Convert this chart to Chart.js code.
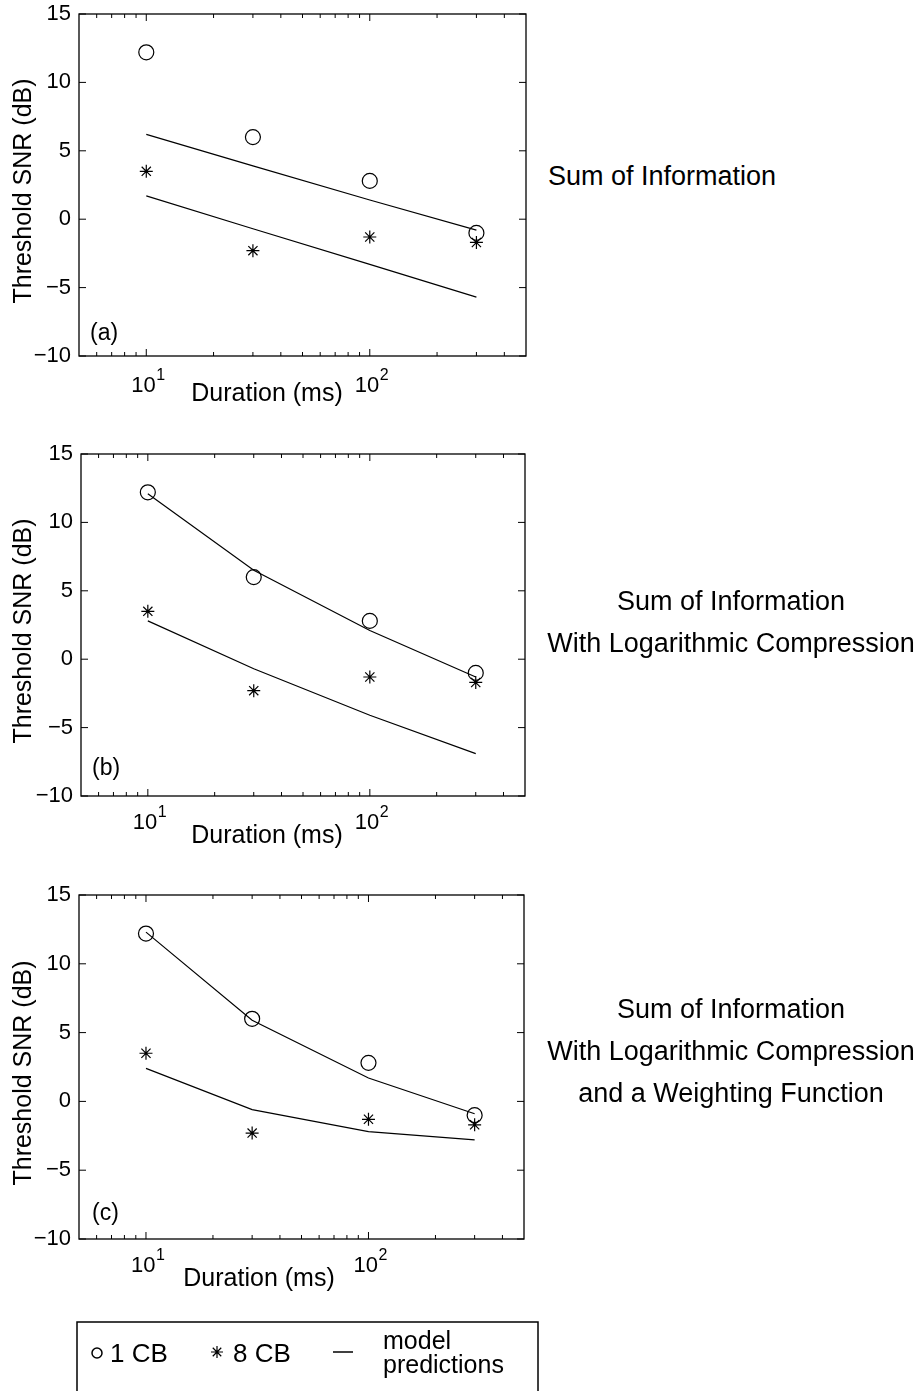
<!DOCTYPE html>
<html>
<head>
<meta charset="utf-8">
<script src="https://cdn.jsdelivr.net/npm/chart.js@4.4.1/dist/chart.umd.min.js"></script>
<style>
    body {
        margin: 0;
        width: 922px;
        height: 1391px;
        position: relative;
        overflow: hidden;
        background: #fff;
        font-family: "Liberation Sans", Arial, Helvetica, sans-serif;
    }
    canvas { position: absolute; left: 0; }
    .note {
        position: absolute;
        font-size: 27px;
        line-height: 42px;
        color: #000;
        white-space: nowrap;
    }
    .note.centered { text-align: center; width: 400px; }
</style>
</head>
<body>
<canvas id="panelA" width="540" height="440" style="top:0px"></canvas>
<canvas id="panelB" width="540" height="440" style="top:440px"></canvas>
<canvas id="panelC" width="540" height="440" style="top:881px"></canvas>
<canvas id="legend" width="922" height="91" style="top:1300px"></canvas>

<div class="note" style="left:548px; top:155px">Sum of Information</div>
<div class="note centered" style="left:531px; top:580px">Sum of Information<br>With Logarithmic Compression</div>
<div class="note centered" style="left:531px; top:988px">Sum of Information<br>With Logarithmic Compression<br>and a Weighting Function</div>

<script>
// durées des stimuli (ms)
const durations = [10, 30, 100, 300];

// seuils mesurés (dB)
const oneCB = [12.2, 6.0, 2.8, -1.0];
const eightCB = [3.5, -2.3, -1.3, -1.7];

// prédictions des trois modèles
const modelA_1CB = [6.2, 3.9, 1.4, -0.8];
const modelA_8CB = [1.7, -0.7, -3.3, -5.7];
const modelB_1CB = [12.1, 6.5, 2.1, -1.3];
const modelB_8CB = [2.8, -0.7, -4.1, -6.9];
const modelC_1CB = [12.3, 5.9, 1.7, -0.9];
const modelC_8CB = [2.4, -0.6, -2.2, -2.8];

// graduations
const yTicks = [-10, -5, 0, 5, 10, 15];
const xTicks = [10, 100];
const xMinorTicks = [6, 7, 8, 9, 20, 30, 40, 50, 60, 70, 80, 90, 200, 300, 400];

const FONT = '"Liberation Sans", Arial, Helvetica, sans-serif';

function toPoints(values) {
    return values.map((v, i) => ({ x: durations[i], y: v }));
}

// cadre, graduations intérieures et textes façon Matlab
const matlabAxes = {
    id: 'matlabAxes',
    afterDraw(chart, args, opts) {
        const ctx = chart.ctx;
        const a = chart.chartArea;
        const x = chart.scales.x;
        const y = chart.scales.y;
        ctx.save();
        ctx.strokeStyle = '#000';
        ctx.fillStyle = '#000';
        ctx.lineWidth = 1.3;
        ctx.strokeRect(a.left, a.top, a.right - a.left, a.bottom - a.top);

        ctx.beginPath();
        yTicks.forEach(v => {
            const py = y.getPixelForValue(v);
            ctx.moveTo(a.left, py); ctx.lineTo(a.left + 7, py);
            ctx.moveTo(a.right, py); ctx.lineTo(a.right - 7, py);
        });
        xTicks.forEach(v => {
            const px = x.getPixelForValue(v);
            ctx.moveTo(px, a.bottom); ctx.lineTo(px, a.bottom - 7);
            ctx.moveTo(px, a.top); ctx.lineTo(px, a.top + 7);
        });
        xMinorTicks.forEach(v => {
            const px = x.getPixelForValue(v);
            ctx.moveTo(px, a.bottom); ctx.lineTo(px, a.bottom - 4);
            ctx.moveTo(px, a.top); ctx.lineTo(px, a.top + 4);
        });
        ctx.lineWidth = 1;
        ctx.stroke();

        // étiquettes de l'axe y
        ctx.font = '22px ' + FONT;
        ctx.textAlign = 'right';
        ctx.textBaseline = 'middle';
        yTicks.forEach(v => {
            const txt = v < 0 ? '\u2212' + Math.abs(v) : String(v);
            ctx.fillText(txt, a.left - 8, y.getPixelForValue(v));
        });

        // étiquettes de l'axe x : 10^n
        ctx.textBaseline = 'alphabetic';
        ctx.textAlign = 'left';
        xTicks.forEach(v => {
            const px = x.getPixelForValue(v) - 15;
            const base = a.bottom + opts.tickBase;
            ctx.font = '22px ' + FONT;
            ctx.fillText('10', px, base);
            const w = ctx.measureText('10').width;
            ctx.font = '16px ' + FONT;
            ctx.fillText(String(Math.round(Math.log10(v))), px + w + 0.5, base - 12);
        });

        // titres des axes
        ctx.font = '25px ' + FONT;
        ctx.textAlign = 'center';
        ctx.fillText('Duration (ms)', opts.xLabelX, a.bottom + opts.xLabelBase);

        ctx.save();
        ctx.translate(31, (a.top + a.bottom) / 2 + 6);
        ctx.rotate(-Math.PI / 2);
        ctx.fillText('Threshold SNR (dB)', 0, 0);
        ctx.restore();

        // lettre du panneau
        ctx.font = '23px ' + FONT;
        ctx.textAlign = 'left';
        ctx.textBaseline = 'middle';
        ctx.fillText(opts.letter, opts.letterX, a.bottom - opts.letterUp);
        ctx.restore();
    }
};

function buildPanel(canvasId, model1, model8, layout) {
    const ctx = document.getElementById(canvasId).getContext('2d');
    return new Chart(ctx, {
        type: 'scatter',
        data: {
            datasets: [
                {
                    label: 'model 1 CB',
                    data: toPoints(model1),
                    showLine: true,
                    borderColor: '#000',
                    borderWidth: 1.2,
                    pointRadius: 0
                },
                {
                    label: 'model 8 CB',
                    data: toPoints(model8),
                    showLine: true,
                    borderColor: '#000',
                    borderWidth: 1.2,
                    pointRadius: 0
                },
                {
                    label: '1 CB',
                    data: toPoints(oneCB),
                    pointStyle: 'circle',
                    pointRadius: 7.5,
                    borderColor: '#000',
                    borderWidth: 1.2,
                    backgroundColor: 'rgba(0,0,0,0)'
                },
                {
                    label: '8 CB',
                    data: toPoints(eightCB),
                    pointStyle: 'star',
                    pointRadius: 6.5,
                    borderColor: '#000',
                    borderWidth: 1.2,
                    backgroundColor: '#000'
                }
            ]
        },
        options: {
            responsive: false,
            animation: false,
            devicePixelRatio: 1,
            events: [],
            layout: { padding: layout.padding },
            plugins: {
                legend: { display: false },
                tooltip: { enabled: false },
                matlabAxes: layout
            },
            scales: {
                x: { type: 'logarithmic', min: 5, max: 500, display: false },
                y: { type: 'linear', min: -10, max: 15, display: false }
            }
        },
        plugins: [matlabAxes]
    });
}

buildPanel('panelA', modelA_1CB, modelA_8CB, {
    padding: { left: 79, top: 14, right: 14, bottom: 84 },
    letter: '(a)', letterX: 90, letterUp: 22,
    tickBase: 36, xLabelX: 267, xLabelBase: 45
});
buildPanel('panelB', modelB_1CB, modelB_8CB, {
    padding: { left: 81, top: 14, right: 15, bottom: 84 },
    letter: '(b)', letterX: 92, letterUp: 27,
    tickBase: 33, xLabelX: 267, xLabelBase: 47
});
buildPanel('panelC', modelC_1CB, modelC_8CB, {
    padding: { left: 79, top: 14, right: 16, bottom: 82 },
    letter: '(c)', letterX: 92, letterUp: 25,
    tickBase: 33, xLabelX: 259, xLabelBase: 47
});

// légende commune
function drawLegend() {
    const ctx = document.getElementById('legend').getContext('2d');
    ctx.strokeStyle = '#000';
    ctx.fillStyle = '#000';
    ctx.lineWidth = 1.5;
    ctx.strokeRect(77, 22, 461, 120);

    ctx.fillStyle = '#fff';
    Chart.helpers.drawPoint(ctx, { pointStyle: 'circle', radius: 5, borderWidth: 2, rotation: 0 }, 97, 53);
    ctx.fillStyle = '#000';
    ctx.lineWidth = 1.2;
    Chart.helpers.drawPoint(ctx, { pointStyle: 'star', radius: 6, borderWidth: 1.2, rotation: 0 }, 217, 52);

    ctx.beginPath();
    ctx.lineWidth = 1.5;
    ctx.moveTo(333, 52);
    ctx.lineTo(353, 52);
    ctx.stroke();

    ctx.font = '26px ' + FONT;
    ctx.textBaseline = 'alphabetic';
    ctx.textAlign = 'left';
    ctx.fillText('1 CB', 110, 62);
    ctx.fillText('8 CB', 233, 62);
    ctx.font = '25px ' + FONT;
    ctx.fillText('model', 383, 49);
    ctx.fillText('predictions', 383, 73);
}
drawLegend();
</script>
</body>
</html>
